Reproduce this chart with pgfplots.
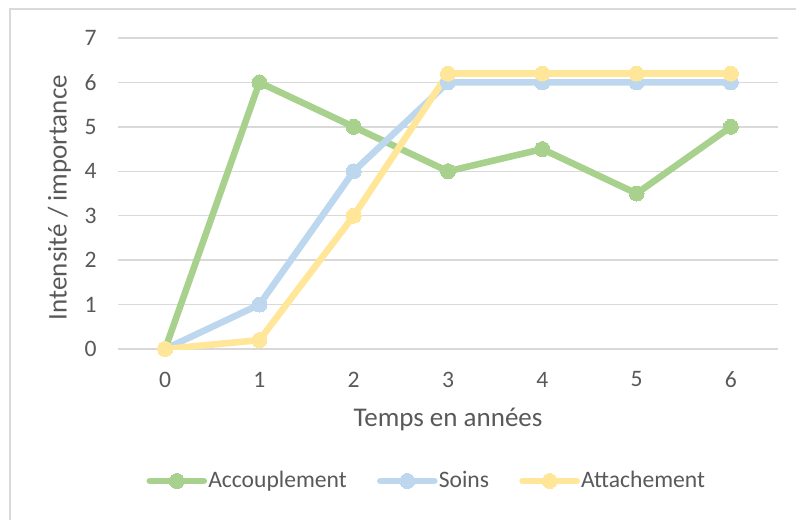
\documentclass[border=0pt]{standalone}
\usepackage{pgfplots}
\pgfplotsset{compat=1.18}
\usepackage{fontspec}
\setmainfont{Carlito}
\definecolor{cgreen}{HTML}{A9D18E}
\definecolor{cblue}{HTML}{BDD7EE}
\definecolor{cyellow}{HTML}{FFE699}
\definecolor{textgray}{HTML}{595959}
\definecolor{gridgray}{HTML}{D9D9D9}
\begin{document}
\fontsize{11.8}{14}\selectfont
\begin{tikzpicture}
\useasboundingbox (0,0) rectangle (398pt,260pt);
\draw[color=gridgray, line width=0.75pt] (5pt,0pt) -- (5pt,255.5pt) -- (398pt,255.5pt);
\begin{axis}[
  at={(59pt,85.5pt)}, anchor=south west,
  scale only axis, width=330pt, height=155.5pt,
  xmin=-0.5, xmax=6.5, ymin=0, ymax=7,
  xtick={0,...,6}, ytick={0,...,7},
  axis line style={draw=none},
  major tick length=0pt,
  ymajorgrids,
  grid style={color=gridgray, line width=0.75pt},
  /pgf/number format/assume math mode=true,
  tick label style={color=textgray, font=\fontsize{11.8}{14}\selectfont},
  xticklabel style={anchor=center, inner sep=0pt, yshift=-15.25pt},
  yticklabel style={anchor=east, inner sep=0pt, xshift=-10.5pt},
  xlabel={Temps en années},
  ylabel={Intensité / importance},
  label style={color=textgray, font=\fontsize{13.5}{16}\selectfont},
  xlabel style={at={(axis description cs:0.5,-0.225)}, anchor=center},
  ylabel style={at={(axis description cs:-0.0886,0.487)}, anchor=center},
  legend columns=3,
  legend style={draw=none, fill=none, at={(axis description cs:0.4672,-0.4244)}, anchor=center,
    font=\fontsize{11.8}{14}\selectfont, text=textgray,
    nodes={inner xsep=0.6pt},
    /tikz/every even column/.append style={column sep=14.5pt}},
  legend image code/.code={\draw[mark repeat=2,mark phase=2,line cap=round,#1] plot coordinates {(0pt,0pt) (13.5pt,0pt) (27pt,0pt)};},
  every axis plot/.append style={line width=3.3pt, mark=*, mark size=3.75pt, line join=round},
]
\addplot[color=cgreen, mark options={fill=cgreen, draw=cgreen, line width=0pt}] coordinates {(0,0) (1,6) (2,5) (3,4) (4,4.5) (5,3.5) (6,5)};
\addlegendentry{Accouplement}
\addplot[color=cblue, mark options={fill=cblue, draw=cblue, line width=0pt}] coordinates {(0,0) (1,1) (2,4) (3,6) (4,6) (5,6) (6,6)};
\addlegendentry{Soins}
\addplot[color=cyellow, mark options={fill=cyellow, draw=cyellow, line width=0pt}] coordinates {(0,0) (1,0.2) (2,3) (3,6.2) (4,6.2) (5,6.2) (6,6.2)};
\addlegendentry{Attachement}
\end{axis}
\end{tikzpicture}
\end{document}
